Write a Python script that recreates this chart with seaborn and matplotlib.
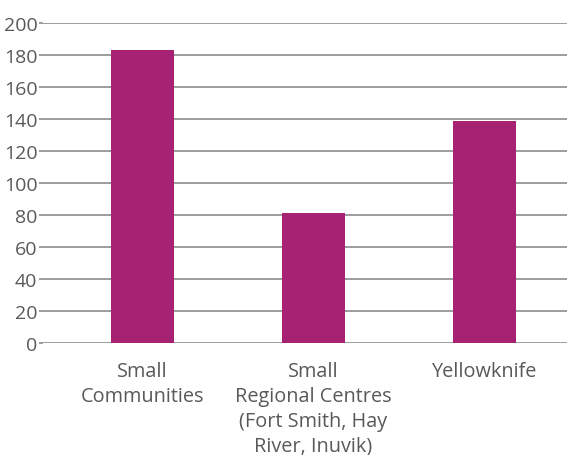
import matplotlib
matplotlib.use("Agg")
import matplotlib.pyplot as plt
import seaborn as sns
import pandas as pd

categories = ["Small\nCommunities", "Small\nRegional Centres\n(Fort Smith, Hay\nRiver, Inuvik)", "Yellowknife"]
values = [183, 81, 139]
yticks = [0, 20, 40, 60, 80, 100, 120, 140, 160, 180, 200]

sns.set_theme(style="white")
plt.rcParams['font.family'] = ['Open Sans', 'DejaVu Sans']

df = pd.DataFrame({"cat": categories, "val": values})

fig = plt.figure(figsize=(5.67, 4.56), dpi=100)
ax = fig.add_axes([43/567, 1-344/456, 1-43/567, (344-24)/456])
sns.barplot(data=df, x="cat", y="val", color="#A72273", width=0.37, saturation=1,
            linewidth=0, ax=ax, zorder=3)
ax.set_xlim(-0.58, 2.48)
ax.set_ylim(0, 200)
ax.set_yticks(yticks)
ax.set_yticklabels([str(t) for t in yticks])
ax.yaxis.grid(True, color="#8c8c8c", linewidth=1.2, zorder=0)
ax.xaxis.grid(False)
for s in ax.spines.values():
    s.set_visible(False)
ax.set_xlabel("")
ax.set_ylabel("")
ax.tick_params(axis="y", length=3, width=1.2, color="#8c8c8c", labelsize=14, labelcolor="#595959", pad=1, left=True)
ax.tick_params(axis="x", length=0, labelsize=14.3, labelcolor="#595959", pad=13)
for lbl in ax.get_xticklabels():
    lbl.set_linespacing(1.33)
    lbl.set_verticalalignment("top")
fig.savefig("out.png", dpi=100)
